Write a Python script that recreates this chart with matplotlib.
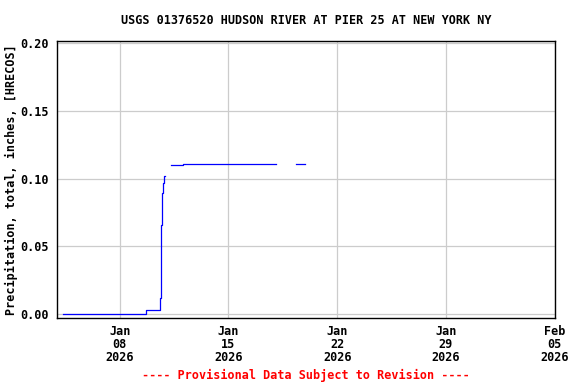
import matplotlib
matplotlib.use("Agg")
import matplotlib.pyplot as plt
import numpy as np
import pandas as pd

# precipitation, total, inches (provisional), NaN = gap in record
times = ["2026-01-04 08:00", "2026-01-09 17:00", "2026-01-10 14:00",
         "2026-01-10 15:30", "2026-01-10 17:00", "2026-01-10 19:15",
         "2026-01-10 20:45", "2026-01-10 22:15", "2026-01-10 22:30",
         "2026-01-11 08:00", "2026-01-12 01:15", "2026-01-17 10:00",
         "2026-01-18 02:00", "2026-01-18 02:15",
         "2026-01-19 09:00", "2026-01-19 23:00"]
precip = [0.000, 0.003, 0.012,
          0.066, 0.089, 0.097,
          0.102, 0.102, np.nan,
          0.110, 0.1105, 0.111,
          0.111, np.nan,
          0.111, 0.111]

tick_dates = ["2026-01-08", "2026-01-15", "2026-01-22", "2026-01-29", "2026-02-05"]
y_ticks = [0.00, 0.05, 0.10, 0.15, 0.20]

t = pd.to_datetime(times)
ticks = pd.to_datetime(tick_dates)

plt.rcParams["font.family"] = "DejaVu Sans Mono"
plt.rcParams["font.weight"] = "bold"

fig = plt.figure(figsize=(5.76, 3.84), dpi=100)
ax = fig.add_axes([0.0998, 0.172, 0.8632, 0.721])

ax.plot(t, precip, color="#0000ff", lw=0.9, drawstyle="steps-post")

ax.set_xlim(pd.Timestamp("2026-01-04"), pd.Timestamp("2026-02-05"))
ax.set_ylim(-0.0027, 0.2012)
ax.set_xticks(ticks)
ax.set_xticklabels([d.strftime("%b\n%d\n%Y") for d in ticks], fontsize=8.5,
                   fontweight="bold", linespacing=1.02)
ax.set_yticks(y_ticks)
ax.set_yticklabels(["%.2f" % v for v in y_ticks], fontsize=8.5, fontweight="bold")
ax.tick_params(length=0, pad=6)
ax.tick_params(axis="x", pad=5)
ax.grid(True, color="#cccccc", lw=0.9)
ax.set_axisbelow(True)
for s in ax.spines.values():
    s.set_linewidth(1.0)
    s.set_color("black")

ax.set_ylabel("Precipitation, total, inches, [HRECOS]", fontsize=8.5,
              fontweight="bold", labelpad=2)
ax.set_title("USGS 01376520 HUDSON RIVER AT PIER 25 AT NEW YORK NY",
             fontsize=8.5, fontweight="bold", pad=12)
fig.text(0.531, 1 - 375 / 384, "---- Provisional Data Subject to Revision ----",
         color="red", fontsize=8.5, fontweight="bold", ha="center", va="center")

fig.savefig("out.png", dpi=100)
